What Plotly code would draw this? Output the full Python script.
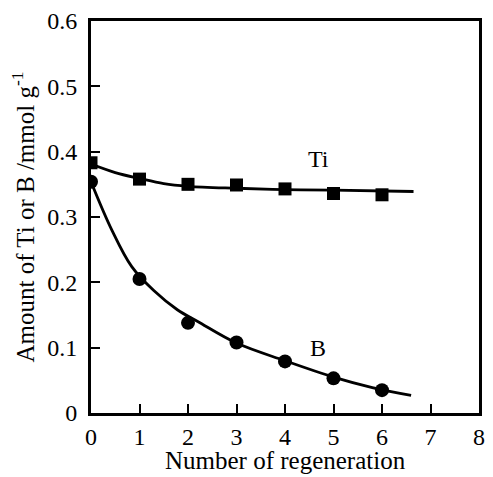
import plotly.graph_objects as go

# measured data
cycles = [0, 1, 2, 3, 4, 5, 6]
ti_amount = [0.383, 0.358, 0.350, 0.349, 0.343, 0.336, 0.334]
b_amount = [0.354, 0.205, 0.138, 0.108, 0.079, 0.053, 0.035]

# fitted curves
ti_fit_x = [0, 0.5, 1, 1.5, 2, 3, 4, 5, 6.65]
ti_fit_y = [0.381, 0.368, 0.359, 0.351, 0.347, 0.344, 0.342, 0.341, 0.339]
b_fit_x = [0, 0.43, 0.84, 1.3, 1.78, 2.2, 3, 4, 5, 5.8, 6.6]
b_fit_y = [0.354, 0.280, 0.224, 0.187, 0.158, 0.140, 0.107, 0.080, 0.055, 0.039, 0.027]

x_ticks = [0, 1, 2, 3, 4, 5, 6, 7, 8]
y_ticks = [0, 0.1, 0.2, 0.3, 0.4, 0.5, 0.6]
y_tick_text = ["0", "0.1", "0.2", "0.3", "0.4", "0.5", "0.6"]

FONT = "Liberation Serif, Times New Roman, serif"

fig = go.Figure()
fig.add_trace(go.Scatter(x=ti_fit_x, y=ti_fit_y, mode="lines", line=dict(color="black", width=2.8, shape="spline"), showlegend=False, hoverinfo="skip"))
fig.add_trace(go.Scatter(x=b_fit_x, y=b_fit_y, mode="lines", line=dict(color="black", width=2.8, shape="spline"), showlegend=False, hoverinfo="skip"))
fig.add_trace(go.Scatter(x=cycles, y=ti_amount, mode="markers", marker=dict(symbol="square", size=13, color="black"), name="Ti", showlegend=False))
fig.add_trace(go.Scatter(x=cycles, y=b_amount, mode="markers", marker=dict(symbol="circle", size=14, color="black"), name="B", showlegend=False))

fig.add_annotation(x=4.69, y=0.389, text="Ti", showarrow=False, font=dict(family=FONT, size=24, color="black"))
fig.add_annotation(x=4.69, y=0.0995, text="B", showarrow=False, font=dict(family=FONT, size=24, color="black"))
# x-axis title
fig.add_annotation(x=0.5, y=-0.122, xref="paper", yref="paper", xanchor="center", yanchor="middle",
                   text="Number of regeneration", showarrow=False, font=dict(family=FONT, size=25, color="black"))

fig.update_layout(
    width=493, height=477,
    margin=dict(l=91, r=8, t=21, b=64),
    paper_bgcolor="white", plot_bgcolor="white",
    font=dict(family=FONT, size=24, color="black"),
    xaxis=dict(range=[0, 8], tickvals=x_ticks, ticks="inside", ticklen=9, tickwidth=2, tickcolor="black",
               showline=True, linecolor="black", linewidth=3, mirror=True, showgrid=False, zeroline=False,
               ticklabelstandoff=0,
               tickfont=dict(size=24)),
    yaxis=dict(range=[0, 0.6], tickvals=y_ticks, ticktext=y_tick_text, ticks="inside", ticklen=9, tickwidth=2, tickcolor="black",
               showline=True, linecolor="black", linewidth=3, mirror=True, showgrid=False, zeroline=False,
               ticklabelstandoff=6,
               title=dict(text="Amount of Ti or B /mmol g<sup>-1</sup>", standoff=6, font=dict(size=25)),
               tickfont=dict(size=24)),
)

fig.write_html("out.html")
